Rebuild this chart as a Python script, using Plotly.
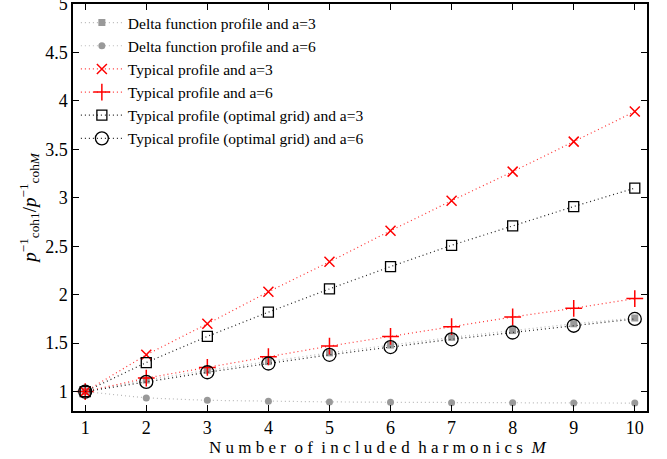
import plotly.graph_objects as go

M = [1, 2, 3, 4, 5, 6, 7, 8, 9, 10]
delta_a3 = [1.00, 1.12, 1.22, 1.31, 1.40, 1.48, 1.56, 1.63, 1.70, 1.76]
delta_a6 = [1.00, 0.935, 0.91, 0.90, 0.894, 0.89, 0.886, 0.884, 0.883, 0.882]
typ_a3 = [1.00, 1.38, 1.70, 2.03, 2.34, 2.66, 2.97, 3.27, 3.58, 3.89]
typ_a6 = [1.00, 1.14, 1.25, 1.36, 1.47, 1.57, 1.67, 1.77, 1.86, 1.96]
opt_a3 = [1.00, 1.30, 1.57, 1.82, 2.06, 2.29, 2.51, 2.71, 2.91, 3.10]
opt_a6 = [1.00, 1.10, 1.20, 1.29, 1.38, 1.46, 1.54, 1.61, 1.68, 1.75]
y_ticks = [1, 1.5, 2, 2.5, 3, 3.5, 4, 4.5, 5]
y_ticktext = ["1", "1.5", "2", "2.5", "3", "3.5", "4", "4.5", "5"]

names = [
    "Delta function profile and a=3",
    "Delta function profile and a=6",
    "Typical profile and a=3",
    "Typical profile and a=6",
    "Typical profile (optimal grid) and a=3",
    "Typical profile (optimal grid) and a=6",
]
series = [delta_a3, delta_a6, typ_a3, typ_a6, opt_a3, opt_a6]
line_colors = ["#b8b8b8", "#b8b8b8", "#ff3030", "#ff3030", "#222222", "#222222"]
markers = [
    dict(symbol="square", size=7, color="#999999"),
    dict(symbol="circle", size=7, color="#999999"),
    dict(symbol="x-thin-open", size=10, color="#ff0000", line=dict(color="#ff0000", width=1.5)),
    dict(symbol="cross-thin-open", size=12, color="#ff0000", line=dict(color="#ff0000", width=1.5)),
    dict(symbol="square-open", size=10, color="#000000", line=dict(color="#000000", width=1.3)),
    dict(symbol="circle-open", size=13, color="#000000", line=dict(color="#000000", width=1.3)),
]

SERIF = "Liberation Serif, Times New Roman, serif"

fig = go.Figure()
for n, s, lc, mk in zip(names, series, line_colors, markers):
    fig.add_trace(go.Scatter(
        x=M, y=s, name=n, mode="lines+markers",
        line=dict(color=lc, width=1.2, dash="1px,3px"),
        marker=mk,
    ))

axis_common = dict(
    showline=True, linecolor="black", linewidth=1.5, mirror="ticks",
    ticks="inside", ticklen=6, tickcolor="black", showgrid=False, zeroline=False,
    automargin=False, ticklabeloverflow="allow",
    tickfont=dict(family=SERIF, size=18, color="black"),
)
fig.update_xaxes(range=[0.8, 10.2], tickvals=M, **axis_common)
fig.update_yaxes(range=[0.8, 5.0001], tickvals=y_ticks, ticktext=y_ticktext,
                 **axis_common,
                 title=dict(text="<i>p</i><sup>−1</sup><sub>coh1</sub>/<i>p</i><sup>−1</sup><sub>coh<i>M</i></sub>",
                            font=dict(family=SERIF, size=19, color="black"),
                            standoff=4))

fig.add_annotation(
    text="N u m b e r  o f  i n c l u d e d  h a r m o n i c s  <i>M</i>",
    xref="paper", yref="paper", x=0.53, y=-0.089,
    xanchor="center", yanchor="middle", showarrow=False,
    font=dict(family=SERIF, size=17, color="black"),
)

fig.update_layout(
    width=667, height=459,
    margin=dict(l=73, r=20, t=4, b=48),
    paper_bgcolor="white", plot_bgcolor="white",
    font=dict(family=SERIF, color="black"),
    legend=dict(x=0.005, y=0.995, xanchor="left", yanchor="top",
                bgcolor="rgba(255,255,255,0)", borderwidth=0,
                font=dict(family=SERIF, size=15.5, color="black"),
                tracegroupgap=0, itemwidth=42),
    showlegend=True,
)
fig.write_html("out.html", config={"displayModeBar": False},
               post_script="document.body.style.margin='0';")
